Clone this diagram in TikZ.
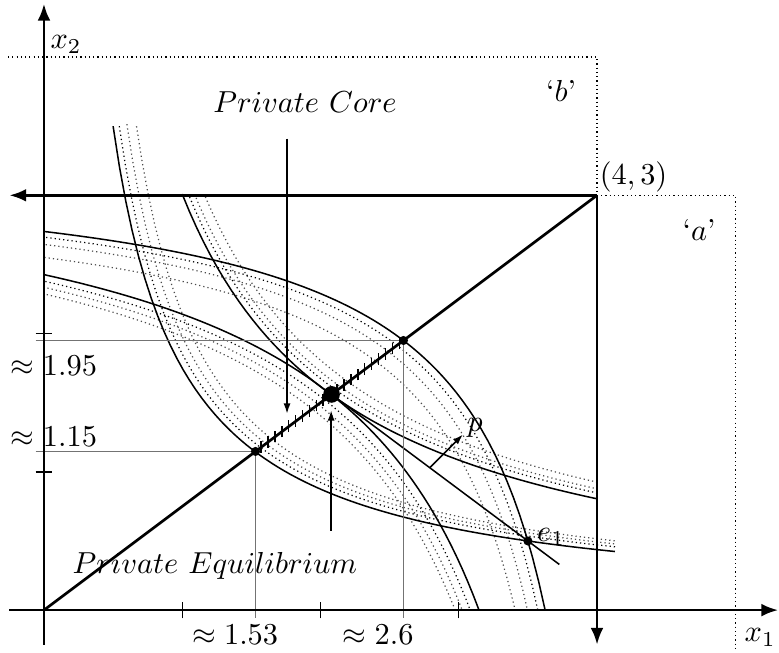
\documentclass[tikz,border=0pt]{standalone}
\usetikzlibrary{arrows.meta,calc}

\begin{document}
\begin{tikzpicture}[x=1.6cm, y=1.6cm,
    axisline/.style={line width=0.9pt, -{Latex[length=5.5pt,width=4.2pt]}},
    icurve/.style={line width=0.5pt},
    icdot/.style={densely dotted, line width=0.4pt},
    guideline/.style={black!55, line width=0.6pt},
    boxline/.style={densely dotted, line width=0.4pt},
    pointer/.style={line width=0.5pt, -{Latex[length=3.4pt,width=2.3pt]}},
    pt/.style={circle, fill, inner sep=0pt, minimum size=3pt},
    bigpt/.style={circle, fill, inner sep=0pt, minimum size=5.5pt}]
  \useasboundingbox (-0.318,-0.31) rectangle (5.316,4.4125);

  \coordinate (O) at (0,0);
  \coordinate (B) at (4,3);
  \coordinate (c1) at (1.53,1.1475);
  \coordinate (c2) at (2.6,1.95);
  \coordinate (eq) at (2.08,1.56);
  \coordinate (e1) at (3.5,0.5);

  \draw[boxline] (-0.26,4) -- (4,4) -- (B) -- (5,3) -- (5,-0.29);

  \begin{scope}
    \clip (0,0) rectangle (4.13,3.51);
    \foreach \h/\v/\c in {0.04/0.03/black,0.095/0.045/black!70,0.16/0.06/black!70}
      \draw[icdot,\c,shift={(\h,\v)}] plot[domain=0.5:4.13,samples=80] (\x,{1.75/\x});
  \end{scope}
  \begin{scope}
    \clip (0,0) rectangle (4,3);
    \foreach \h/\v/\c in {0.03/0.036/black,0.065/0.058/black!70,0.12/0.094/black!70}
      \draw[icdot,\c,shift={(\h,\v)}] plot[domain=1:4,samples=60] (\x,{3.83/(\x+0.232)-0.1});
    \foreach \h/\v/\c in {0.045/0.036/black,0.11/0.08/black!70,0.18/0.165/black!70}
      \draw[icdot,\c,shift={(-\h,-\v)}] plot[domain=0:3.624,samples=80] (\x,{3.258-2.24/(4.312-\x)});
    \foreach \h/\v/\c in {0.05/0.036/black,0.095/0.07/black!70,0.13/0.11/black!70}
      \draw[icdot,\c,shift={(-\h,-\v)}] plot[domain=0:3.146,samples=80] (\x,{3.4-4.293/(4.409-\x)});
  \end{scope}

  \draw[icurve] plot[domain=0.5:4.13,samples=80] (\x,{1.75/\x});
  \draw[icurve] plot[domain=1:4,samples=60] (\x,{3.83/(\x+0.232)-0.1});
  \draw[icurve] plot[domain=0:3.624,samples=80] (\x,{3.258-2.24/(4.312-\x)});
  \draw[icurve] plot[domain=0:3.146,samples=80] (\x,{3.4-4.293/(4.409-\x)});
  \draw[icurve] (eq) -- ($(eq)!1.16!(e1)$);

  \draw[guideline] (-0.06,1.95) -- (c2) -- (2.6,-0.06);
  \draw[guideline] (-0.06,1.1475) -- (c1) -- (1.53,-0.06);

  \foreach \t in {1.57,1.62,...,2.58}
    \draw[line width=0.5pt] (\t,{0.75*\t-0.04}) -- (\t,{0.75*\t+0.045});

  \draw[axisline] (-0.25,0) -- (5.31,0);
  \draw[axisline] (0,-0.25) -- (0,4.385);
  \draw[axisline] (B) -- (-0.25,3);
  \draw[axisline] (B) -- (4,-0.25);
  \draw[line width=0.9pt] (O) -- (B);
  \foreach \t in {1,2,3}
    \draw[line width=0.45pt] (\t,-0.06) -- (\t,0.06);
  \foreach \t in {1,2}
    \draw[line width=0.45pt] (-0.06,\t) -- (0.06,\t);

  \node[pt] (c1pt) at (c1) {};
  \node[pt] (c2pt) at (c2) {};
  \node[pt] (e1pt) at (e1) {};
  \node[bigpt] (eqpt) at (eq) {};

  \node (corelabel) at (1.888,3.675) {$Private\ Core$};
  \coordinate (coretail) at (1.758,3.41);
  \coordinate (coretip) at (1.758,1.42);
  \draw[pointer] (coretail) -- (coretip);
  \node (eqlabel) at (1.237,0.32) {$Private\ Equilibrium$};
  \coordinate (eqtail) at (2.077,0.574);
  \coordinate (eqtip) at (2.077,1.445);
  \draw[pointer] (eqtail) -- (eqtip);
  \coordinate (pfoot) at ($(eq)!0.5!(e1)$);
  \coordinate (ptip) at ($(pfoot)+(0.24,0.24)$);
  \draw[pointer] (pfoot) -- (ptip);

  \node (plabel) at (3.118,1.32) {$p$};
  \node (e1label) at (3.667,0.53) {$e_1$};
  \node (x1label) at (5.18,-0.196) {$x_1$};
  \node (x2label) at (0.16,4.09) {$x_2$};
  \node (Blabel) at (4.264,3.134) {$(4,3)$};
  \node (alabel) at (4.738,2.752) {`$a$'};
  \node (blabel) at (3.74,3.755) {`$b$'};
  \node (y2label) at (0.072,1.765) {$\approx 1.95$};
  \node (y1label) at (0.072,1.256) {$\approx 1.15$};
  \node (x1val) at (1.382,-0.18) {$\approx 1.53$};
  \node (x2val) at (2.416,-0.18) {$\approx 2.6$};
\end{tikzpicture}
\end{document}
